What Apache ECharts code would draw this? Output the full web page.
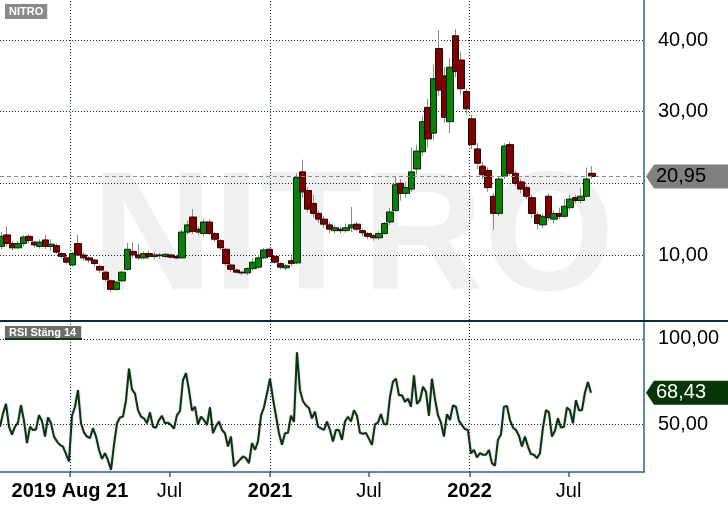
<!DOCTYPE html>
<html>
<head>
    <meta charset="utf-8">
    <title>NITRO</title>
    <script src="https://cdn.jsdelivr.net/npm/echarts@6/dist/echarts.min.js"></script>
    <style>
        html, body { margin: 0; padding: 0; background: #fff; }
        #main { width: 728px; height: 508px; }
    </style>
</head>
<body>
<div id="main"></div>
<script type="text/javascript">
    // visible time range
    var xMin = '2019-08-26';
    var xMax = '2022-11-16';

    // price candles [open, close, low, high], one every 10 days
    var candleStart = '2019-08-29';
    var candleStepDays = 10;
    var candles = [
        [11.2,12.6,10.8,13.2],[12.8,11.6,11.2,14.0],[11.6,11.0,10.6,12.0],[11.0,11.6,10.8,12.0],
        [11.6,12.5,11.2,12.8],[12.6,12.0,11.6,12.9],[11.8,11.4,11.0,12.0],[11.2,11.8,10.9,12.2],
        [12.1,11.2,10.8,12.8],[11.2,11.5,10.6,12.2],[11.3,10.4,10.2,11.6],[10.2,9.8,9.5,10.4],
        [9.6,9.0,8.7,9.8],[8.6,10.2,8.4,10.4],[11.6,10.0,9.8,12.8],[10.0,9.6,9.2,10.4],
        [9.6,9.3,8.9,9.8],[9.3,8.8,8.4,9.5],[8.4,7.9,7.5,8.6],[7.6,6.6,6.3,7.8],
        [6.4,5.2,4.8,6.6],[5.2,6.2,5.0,6.4],[6.4,7.6,6.2,7.8],[8.0,10.8,7.8,11.7],
        [10.5,10.0,9.6,11.8],[10.0,9.6,9.3,11.6],[9.6,10.2,9.4,10.5],[10.2,9.8,9.4,10.6],
        [9.8,10.0,9.4,10.4],[10.0,9.9,9.5,10.3],[9.8,10.1,9.6,10.3],[10.0,9.7,9.5,10.2],
        [9.8,9.6,9.4,10.0],[9.6,13.2,9.5,13.5],[13.2,14.2,12.8,14.8],[15.3,13.3,12.9,16.4],
        [13.6,13.2,12.8,14.0],[13.0,14.6,12.6,15.0],[14.6,13.0,12.8,15.0],[13.0,12.2,11.8,13.2],
        [12.0,11.0,10.7,12.2],[10.8,8.8,8.5,11.0],[8.6,8.0,7.6,8.8],[7.9,7.6,7.4,8.1],
        [7.6,7.5,7.2,7.8],[7.5,8.1,7.2,8.3],[8.1,9.0,7.8,9.6],[8.3,9.6,8.1,10.0],
        [9.6,10.7,9.4,11.0],[10.8,9.8,9.6,11.0],[9.8,9.0,8.8,10.0],[8.8,8.3,8.0,9.0],
        [8.2,8.5,7.9,8.7],[9.2,8.8,8.4,9.8],[8.9,20.8,8.7,21.4],[21.6,18.8,18.0,23.3],
        [19.0,16.4,16.0,19.5],[17.2,15.8,15.2,18.4],[15.8,15.0,14.5,16.2],[15.0,14.3,13.8,15.4],
        [14.2,13.6,13.1,14.6],[13.4,13.8,13.0,14.2],[13.6,13.4,13.0,14.0],[13.4,13.8,13.1,14.4],
        [13.8,14.2,13.2,16.7],[14.3,13.6,13.3,14.6],[13.4,13.1,12.6,13.7],[13.0,12.6,12.2,13.2],
        [12.7,12.4,12.0,12.9],[12.4,13.0,12.1,13.3],[13.0,14.4,12.8,14.6],[14.6,16.0,14.2,16.6],
        [16.2,19.8,16.0,21.0],[20.0,18.6,17.6,20.6],[18.6,19.4,18.0,20.2],[19.2,21.6,18.8,25.0],
        [22.0,24.5,21.2,25.4],[24.4,28.6,23.8,29.4],[30.6,26.2,25.0,31.8],[27.0,34.6,26.0,36.5],
        [38.8,33.0,32.2,41.4],[35.0,29.2,28.4,36.2],[28.6,36.2,27.0,37.5],[40.6,35.6,34.8,41.5],
        [37.2,33.2,32.4,38.4],[32.8,30.4,29.6,33.2],[29.0,25.4,24.8,29.6],[24.8,22.8,22.0,25.6],
        [22.4,21.2,20.6,23.0],[21.8,19.4,18.8,22.2],[18.2,15.8,13.5,18.6],[15.8,20.6,15.4,21.0],
        [21.0,25.2,20.6,25.6],[25.4,21.4,21.0,25.8],[21.4,20.0,19.6,21.8],[20.2,19.2,18.6,20.6],
        [19.4,18.2,17.8,19.8],[18.0,15.8,15.2,18.4],[15.6,14.4,13.6,16.0],[14.2,15.4,13.8,15.8],
        [18.2,15.2,14.8,18.6],[15.0,15.8,14.4,16.2],[15.8,15.4,15.0,16.6],[15.4,16.8,15.2,17.8],
        [16.6,17.8,16.2,18.4],[18.0,17.6,17.2,18.4],[17.6,18.2,17.2,19.4],[18.2,20.6,18.0,22.2],
        [21.4,20.95,20.6,22.4]
    ];
    var lastPrice = 20.95;

    // RSI (close, 14), one value about every 5.5 days
    var rsiStart = '2019-08-26';
    var rsiStepDays = 5.487;
    var rsiValues = [
        48.6,56.4,62,48.6,44,48.6,51,61.2,52,39,
        48.6,46.7,47,55.4,52,42.8,54,50.6,42.8,39.9,
        38,37,32.7,28.3,55,60.3,70,50.6,45.2,42.8,
        42,47.7,43,35.1,29.8,33.1,29,23.4,38,50.6,
        54,54.5,64,82.6,70.5,68,58.3,54.5,53.5,50.6,
        57,48.6,48,52.5,55,50.6,51,49.6,47.5,55.4,
        57.8,75.8,80,70,58,60.3,50,54.5,52.5,49.6,
        60,44.8,49,51.6,
        46.7,44.8,37,42.8,25.4,27.3,29.3,31.2,30.2,27.3,
        39,35,40,55,60,68,76.7,65,55,44.8,
        38,44.8,45,55,51.5,92.2,70,63.5,61,59.5,
        53.5,57.4,48.6,47.7,46.7,51.6,46.7,39.9,46.7,46.7,
        40.9,51.6,54.5,51.6,58.3,55,45,44.5,45,41.5,
        38,50,51,56,50,50,66,75,76.7,67,
        67,63.2,65,60.3,78.7,62,64.1,
        72,69,55,76.7,65,55.4,51,42.8,56,52.5,
        61,60.3,52,49.6,47.2,46.7,33,35.1,30.7,33.1,
        32.2,32.2,35,27.3,25.8,40.9,44,60.3,60.8,52.5,
        48.2,46.7,43.3,37,42.8,37,32.6,32.2,30.2,33.1,
        48,58.3,57,42.8,46.2,53.5,48.1,48.6,59.8,58.3,
        50.6,64.1,58.3,58.3,68.5,74.8,68.43
    ];
    var lastRsi = 68.43;

    // axis ticks
    var tickDates = ['2020-01-01', '2020-07-01', '2021-01-01', '2021-07-01', '2022-01-01', '2022-07-01'];
    var tickLabels = ['2019 Aug 21', 'Jul', '2021', 'Jul', '2022', 'Jul'];
    var tickBold = [true, false, true, false, true, false];
    var yearLines = ['2020-01-01', '2021-01-01', '2022-01-01'];
    var priceTicks = [10, 20, 30, 40];
    var priceLabels = [10, 30, 40];   // 20 sits under the last-price tag
    var rsiTicks = [50, 100];

    var DAY = 86400000;
    var FONT = '"Liberation Sans", Arial, sans-serif';
    function ts(d) { return +new Date(d); }
    function fmt(v) { return v.toFixed(2).replace('.', ','); }

    var t0 = ts(candleStart);
    var candleRaw = candles.map(function (c, i) {
        return [t0 + i * candleStepDays * DAY, c[0], c[1], c[2], c[3]];
    });
    // bodies only (low/high = body edges), drawn over the grey wicks
    var candleBody = candles.map(function (c, i) {
        return [t0 + i * candleStepDays * DAY, c[0], c[1], Math.min(c[0], c[1]), Math.max(c[0], c[1])];
    });
    var r0 = ts(rsiStart);
    var rsiData = rsiValues.map(function (v, i) {
        return [r0 + i * rsiStepDays * DAY, v];
    });
    var tickTs = tickDates.map(ts);

    var gridDot = {type: [1, 2], color: '#0b2b3b', width: 1};
    var yearMarks = yearLines.map(function (d) { return {xAxis: ts(d)}; });

    function tagSymbol(fill, textColor, text) {
        return {
            symbol: 'path://M0,12L8,0H82V24H8Z',
            symbolSize: [82, 24],
            symbolOffset: [43, 0],
            itemStyle: {color: fill},
            label: {
                show: true, position: 'inside', offset: [-6, 0],
                formatter: text, color: textColor, fontSize: 20, fontFamily: FONT
            }
        };
    }

    var myChart = echarts.init(document.getElementById('main'));
    var option = {
        animation: false,
        backgroundColor: '#fff',
        graphic: [
            {
                type: 'text', z: -10, silent: true,
                style: {
                    text: 'NITRO', x: 353, y: 243, align: 'center', verticalAlign: 'middle',
                    font: 'bold 168px ' + FONT, fill: '#f0f0f0'
                }
            },
            {
                type: 'text', z: 100,
                style: {
                    text: 'NITRO', x: 5, y: 4, fill: '#fff', backgroundColor: '#8a8a8a',
                    padding: [2, 4, 2, 4], font: 'bold 11px ' + FONT
                }
            },
            {
                type: 'text', z: 100,
                style: {
                    text: 'RSI Stäng 14', x: 5, y: 326, fill: '#fff', backgroundColor: '#6c6c6c',
                    padding: [1, 5, 1, 4], font: 'bold 11px ' + FONT
                }
            },
            {
                type: 'rect', z: 100,
                shape: {x: 5, y: 338, width: 77, height: 2},
                style: {fill: '#0b3a0b'}
            },
            {
                type: 'rect', z: 100,
                shape: {x: 0, y: 320, width: 728, height: 2},
                style: {fill: '#0b2b3b'}
            }
        ],
        grid: [
            {left: 0, right: 84, top: 0, height: 320},
            {left: 0, right: 84, top: 322, height: 150}
        ],
        xAxis: [
            {
                type: 'value', gridIndex: 0, min: ts(xMin), max: ts(xMax),
                axisLine: {show: false}, axisTick: {show: false},
                axisLabel: {show: false}, splitLine: {show: false}
            },
            {
                type: 'value', gridIndex: 1, min: ts(xMin), max: ts(xMax),
                axisLine: {show: true, lineStyle: {color: '#2f5f8f', width: 1.5}},
                axisTick: {show: true, length: 5, customValues: tickTs, lineStyle: {color: '#2f5f8f', width: 1.5}},
                splitLine: {show: false},
                axisLabel: {
                    customValues: tickTs, margin: 9, color: '#000', fontSize: 20, fontFamily: FONT,
                    formatter: function (v) {
                        var i = tickTs.indexOf(v);
                        if (i < 0) return '';
                        return tickBold[i] ? '{b|' + tickLabels[i] + '}' : tickLabels[i];
                    },
                    rich: {b: {fontWeight: 'bold', fontSize: 20, color: '#000', fontFamily: FONT}}
                }
            }
        ],
        yAxis: [
            {
                type: 'value', gridIndex: 0, position: 'right', min: 0.93, max: 45.58,
                axisLine: {show: true, lineStyle: {color: '#2f5f8f', width: 1.5}},
                axisTick: {show: false, customValues: priceTicks},
                splitLine: {show: true, lineStyle: gridDot},
                axisLabel: {
                    customValues: priceLabels, margin: 14, color: '#000', fontSize: 20, fontFamily: FONT,
                    formatter: fmt
                }
            },
            {
                type: 'value', gridIndex: 1, position: 'right', min: 22.1, max: 109.9,
                axisLine: {show: true, lineStyle: {color: '#2f5f8f', width: 1.5}},
                axisTick: {show: false, customValues: rsiTicks},
                splitLine: {show: true, lineStyle: gridDot},
                axisLabel: {
                    customValues: rsiTicks, margin: 14, color: '#000', fontSize: 20, fontFamily: FONT,
                    formatter: fmt
                }
            }
        ],
        series: [
            {
                // wicks
                type: 'candlestick', xAxisIndex: 0, yAxisIndex: 0,
                barWidth: 1, data: candleRaw, silent: true,
                itemStyle: {color: '#8a8a8a', color0: '#8a8a8a', borderColor: '#8a8a8a', borderColor0: '#8a8a8a', borderWidth: 1},
                markLine: {
                    silent: true, symbol: ['none', 'none'], label: {show: false},
                    lineStyle: gridDot,
                    data: yearMarks.concat([{yAxis: lastPrice, lineStyle: {type: [4, 3], color: '#8a8a8a', width: 1}}])
                }
            },
            {
                // bodies
                type: 'candlestick', xAxisIndex: 0, yAxisIndex: 0,
                barWidth: 7, data: candleBody, silent: true,
                itemStyle: {color: '#0a7f0a', color0: '#7f0000', borderColor: '#002a00', borderColor0: '#2a0000', borderWidth: 1},
                markPoint: {
                    silent: true,
                    data: [Object.assign({coord: [ts(xMax), lastPrice]}, tagSymbol('#808080', '#000', fmt(lastPrice)))]
                }
            },
            {
                type: 'line', xAxisIndex: 1, yAxisIndex: 1,
                data: rsiData, showSymbol: false, silent: true,
                lineStyle: {color: '#0b3312', width: 2, shadowColor: 'rgba(0,0,0,0.3)', shadowBlur: 2},
                markLine: {
                    silent: true, symbol: ['none', 'none'], label: {show: false},
                    lineStyle: gridDot, data: yearMarks
                },
                markPoint: {
                    silent: true,
                    data: [Object.assign({coord: [ts(xMax), lastRsi]}, tagSymbol('#073507', '#fff', fmt(lastRsi)))]
                }
            }
        ]
    };
    myChart.setOption(option);
</script>
</body>
</html>
